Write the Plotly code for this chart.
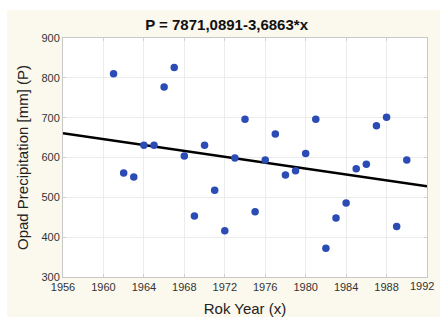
import plotly.graph_objects as go

years = list(range(1961, 1991))
precip = [810, 561, 551, 631, 631, 777, 826, 604, 453, 631,
          518, 416, 599, 696, 464, 594, 659, 556, 567, 610,
          696, 372, 448, 486, 572, 583, 680, 701, 427, 594]

intercept = 7871.0891
slope = -3.6863
x_range = [1956, 1992]
y_range = [300, 900]
x_ticks = list(range(1956, 1993, 4))
x_ticktext = [str(v) for v in x_ticks]
y_ticks = list(range(300, 901, 100))

line_x = x_range
line_y = [intercept + slope * v for v in line_x]

fig = go.Figure()
fig.add_trace(go.Scatter(x=line_x, y=line_y, mode="lines",
                         line=dict(color="#000000", width=2.5), showlegend=False))
fig.add_trace(go.Scatter(x=years, y=precip, mode="markers",
                         marker=dict(color="#2B4BB5", size=7.5), showlegend=False))

cream = "#FBF8EE"
# body margin is removed in the page, so figure coordinates equal page coordinates
L, R, T, B = 63, 13, 38, 40
W, H = 440, 317
pw, ph = W - L - R, H - T - B

def px(xp):
    return (xp - L) / pw

def py(yp):
    return (H - B - yp) / ph

# white strips along the top and left edges (outside the cream panel)
fig.add_shape(type="rect", xref="paper", yref="paper", layer="below",
              x0=px(-5), x1=px(W + 5), y0=py(10), y1=py(-5),
              fillcolor="white", line=dict(width=0))
fig.add_shape(type="rect", xref="paper", yref="paper", layer="below",
              x0=px(-5), x1=px(7), y0=py(H + 5), y1=py(-5),
              fillcolor="white", line=dict(width=0))

tick_font = dict(family="Liberation Sans, Arial", size=11, color="#333333")

# last x tick label drawn as an annotation, nudged left as in the original
shown_text = x_ticktext[:-1] + [""]
fig.add_annotation(x=x_ticks[-1], y=0, xref="x", yref="paper", text=x_ticktext[-1],
                   showarrow=False, xanchor="center", yanchor="top",
                   xshift=-5, yshift=-1, font=tick_font)

axis_common = dict(showgrid=True, gridcolor="#ECECEC", gridwidth=1,
                   showline=True, linecolor="#C8C8C8", linewidth=1, mirror="ticks",
                   ticks="inside", ticklen=3, tickcolor="#D0D0D0", automargin=False,
                   zeroline=False, tickfont=tick_font)

fig.update_layout(
    width=W, height=H,
    margin=dict(l=L, r=R, t=T, b=B),
    paper_bgcolor=cream, plot_bgcolor="white",
    hovermode=False,
    title=dict(text="<b>P = 7871,0891-3,6863*x</b>", x=0.515, xanchor="center",
               y=1 - 25 / H, yanchor="middle",
               font=dict(family="Liberation Sans, Arial", size=15, color="#111111")),
    xaxis=dict(range=x_range, tickvals=x_ticks, ticktext=shown_text,
               title=dict(text="Rok Year (x)", standoff=19,
                          font=dict(family="Liberation Sans, Arial", size=15, color="#222222")),
               **axis_common),
    yaxis=dict(range=y_range, tickvals=y_ticks,
               title=dict(text="Opad Precipitation [mm] (P)", standoff=9,
                          font=dict(family="Liberation Sans, Arial", size=15, color="#222222")),
               **axis_common),
)

fig.write_html(
    "out.html",
    config={"displayModeBar": False},
    post_script=("document.body.style.margin='0';"
                 "document.documentElement.style.overflow='hidden';"
                 "document.body.style.overflow='hidden';"),
)
